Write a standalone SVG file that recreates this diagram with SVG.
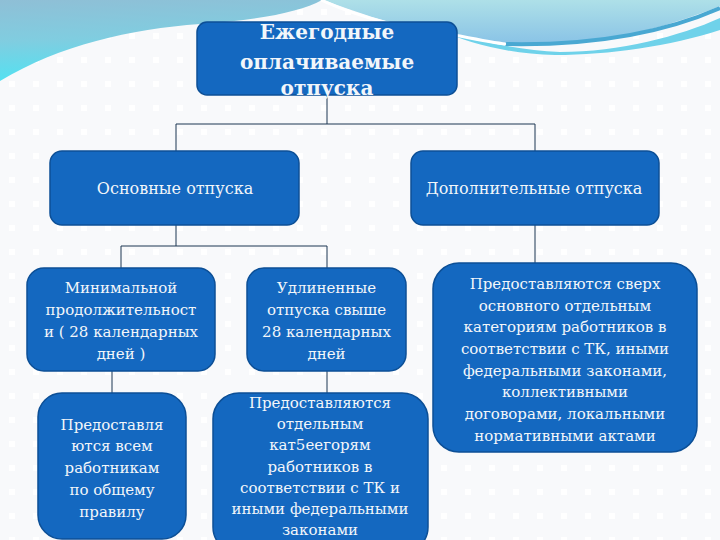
<svg xmlns="http://www.w3.org/2000/svg" width="720" height="540" viewBox="0 0 720 540">
<defs>
  <pattern id="dots" x="0" y="0" width="24" height="24" patternUnits="userSpaceOnUse">
    <rect x="9" y="9" width="6" height="6" fill="#ffffff"/>
  </pattern>
  <linearGradient id="gLeft" x1="0" y1="0" x2="0.15" y2="1">
    <stop offset="0" stop-color="#8fbfd6"/>
    <stop offset="0.5" stop-color="#80cde0"/>
    <stop offset="1" stop-color="#52e2f2"/>
  </linearGradient>
  <linearGradient id="gRight" x1="0" y1="0" x2="0" y2="1">
    <stop offset="0" stop-color="#aee0e8"/>
    <stop offset="1" stop-color="#88c2e6"/>
  </linearGradient>
  <style>
    .box { fill: #1468c0; stroke: #0c4f96; stroke-width: 1.5; }
    .t { font-family: "DejaVu Serif", "Liberation Serif", serif; fill: #f2f6fa; text-anchor: middle; }
    .title { font-size: 20px; font-weight: bold; }
    .l2 { font-size: 16px; }
    .l3 { font-size: 15px; }
    .conn { fill: none; stroke: #1c3652; stroke-width: 1; }
  </style>
</defs>
<rect width="720" height="540" fill="#f8f9fb"/>
<rect width="720" height="540" fill="url(#dots)"/>
<path d="M0,0 H322 C 300,12 260,20 200,24 C 130,29 60,45 0,81 Z" fill="url(#gLeft)"/>
<path d="M324,0 H720 V6 C 660,30 600,44 545,45 C 480,45 400,30 324,0 Z" fill="url(#gRight)"/>
<path d="M440,30 C 480,42 520,50 560,52 C 620,52 680,36 720,18 V30 C 670,46 610,55 555,55 C 510,54 470,44 440,30 Z" fill="#6fd2ea"/>
<path d="M505,44 C 600,46 670,30 720,8" fill="none" stroke="#49a8d2" stroke-width="4"/>
<path d="M321,0 C 360,18 410,30 460,36 C 480,40 495,43 506,44" fill="none" stroke="#ffffff" stroke-width="3"/>

<g id="connectors">
  <path class="conn" d="M327,95 V124 M176,124 H535 M176,124 V151 M535,124 V151"/>
  <path class="conn" d="M176,225 V246 M121,246 H327 M121,246 V268 M327,246 V268"/>
  <path class="conn" d="M535,225 V263"/>
  <path class="conn" d="M112,371 V393 M327,371 V393"/>
</g>

<g id="root">
  <rect class="box" x="197" y="22" width="260" height="73" rx="10"/>
  <text class="t title" x="327" y="39">Ежегодные</text>
  <text class="t title" x="327" y="69">оплачиваемые</text>
  <text class="t title" x="327" y="95">отпуска</text>
</g>
<g id="main">
  <rect class="box" x="50" y="151" width="249" height="74" rx="12"/>
  <text class="t l2" x="175" y="194">Основные отпуска</text>
</g>
<g id="additional">
  <rect class="box" x="411" y="151" width="248" height="74" rx="12"/>
  <text class="t l2" x="534" y="194">Дополнительные отпуска</text>
</g>
<g id="minimal">
  <rect class="box" x="27" y="268" width="188" height="103" rx="17"/>
  <text class="t l3" x="121" y="293">Минимальной</text>
  <text class="t l3" x="121" y="315">продолжительност</text>
  <text class="t l3" x="121" y="337">и ( 28 календарных</text>
  <text class="t l3" x="121" y="359">дней )</text>
</g>
<g id="extended">
  <rect class="box" x="247" y="268" width="159" height="103" rx="17"/>
  <text class="t l3" x="326.5" y="293">Удлиненные</text>
  <text class="t l3" x="326.5" y="315">отпуска свыше</text>
  <text class="t l3" x="326.5" y="337">28 календарных</text>
  <text class="t l3" x="326.5" y="359">дней</text>
</g>
<g id="all">
  <rect class="box" x="38" y="393" width="148" height="146" rx="24"/>
  <text class="t l3" x="112" y="430">Предоставля</text>
  <text class="t l3" x="112" y="451">ются всем</text>
  <text class="t l3" x="112" y="473">работникам</text>
  <text class="t l3" x="112" y="495">по общему</text>
  <text class="t l3" x="112" y="517">правилу</text>
</g>
<g id="separate">
  <rect class="box" x="213" y="393" width="215" height="160" rx="26"/>
  <text class="t l3" x="320" y="408">Предоставляются</text>
  <text class="t l3" x="320" y="429">отдельным</text>
  <text class="t l3" x="320" y="450">кат5еегорям</text>
  <text class="t l3" x="320" y="472">работников в</text>
  <text class="t l3" x="320" y="493">соответствии с ТК и</text>
  <text class="t l3" x="320" y="514">иными федеральными</text>
  <text class="t l3" x="320" y="535">законами</text>
</g>
<g id="extra">
  <rect class="box" x="433" y="263" width="264" height="189" rx="26"/>
  <text class="t l3" x="565" y="289">Предоставляются сверх</text>
  <text class="t l3" x="565" y="310.5">основного отдельным</text>
  <text class="t l3" x="565" y="332">категориям работников в</text>
  <text class="t l3" x="565" y="354">соответствии с ТК, иными</text>
  <text class="t l3" x="565" y="375.5">федеральными законами,</text>
  <text class="t l3" x="565" y="397">коллективными</text>
  <text class="t l3" x="565" y="419">договорами, локальными</text>
  <text class="t l3" x="565" y="440.5">нормативными актами</text>
</g>
</svg>
